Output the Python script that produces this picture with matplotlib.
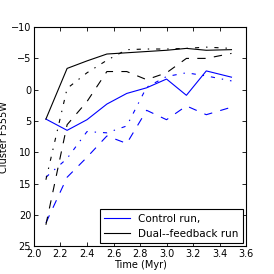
import matplotlib
matplotlib.use("Agg")
import matplotlib.pyplot as plt

# tiempos de los snapshots (Myr)
tiempo = [2.09, 2.25, 2.40, 2.55, 2.70, 2.85, 3.00, 3.15, 3.30, 3.49]

# corrida de control (azul)
control_solido = [4.7, 6.5, 4.8, 2.3, 0.6, -0.3, -1.7, 0.9, -3.0, -2.0]
control_rayas = [21.3, 14.0, 10.8, 7.4, 8.6, 3.3, 4.8, 2.6, 4.0, 2.8]
control_punto = [14.0, 11.0, 6.7, 6.9, 5.8, -0.4, -2.1, -2.7, -2.2, -1.4]

# corrida con doble feedback (negro)
dual_solido = [4.7, -3.4, -4.6, -5.7, -5.9, -6.1, -6.3, -6.6, -6.3, -6.4]
dual_rayas = [21.6, 5.6, 1.9, -2.9, -2.9, -1.6, -2.7, -5.0, -5.0, -5.8]
dual_punto = [14.4, -0.2, -2.7, -4.7, -6.4, -6.5, -6.5, -6.6, -6.8, -6.6]

plt.rcParams["font.family"] = "DejaVu Sans"
plt.rcParams["font.size"] = 7
plt.rcParams["lines.scale_dashes"] = False
plt.rcParams["xtick.direction"] = "in"
plt.rcParams["ytick.direction"] = "in"
plt.rcParams["xtick.top"] = True
plt.rcParams["ytick.right"] = True

fig = plt.figure(figsize=(2.74, 2.74), dpi=100)
ax = fig.add_axes([0.124, 0.102, 0.774, 0.799])

lw = 0.8
ax.plot(tiempo, control_solido, color="b", lw=lw, label="Control run,")
ax.plot(tiempo, control_rayas, color="b", lw=lw, dashes=(6, 6))
ax.plot(tiempo, control_punto, color="b", lw=lw, dashes=(3, 5, 1, 5))
ax.plot(tiempo, dual_solido, color="k", lw=lw, label="Dual--feedback run")
ax.plot(tiempo, dual_rayas, color="k", lw=lw, dashes=(6, 6))
ax.plot(tiempo, dual_punto, color="k", lw=lw, dashes=(3, 5, 1, 5))

ax.set_xlim(2.0, 3.6)
ax.set_ylim(25, -10)
ax.set_xticks([2.0, 2.2, 2.4, 2.6, 2.8, 3.0, 3.2, 3.4, 3.6])
ax.set_yticks([-10, -5, 0, 5, 10, 15, 20, 25])
ax.tick_params(length=3, width=0.6, pad=2)
for s in ax.spines.values():
    s.set_linewidth(0.8)

ax.set_xlabel("Time (Myr)", labelpad=1)
ax.set_ylabel("Cluster F555W", labelpad=1)

leg = ax.legend(loc="lower right", fontsize=7.5, fancybox=False, framealpha=1,
                borderaxespad=0.3, handlelength=2.5, labelspacing=0.5)
leg.get_frame().set_edgecolor("k")
leg.get_frame().set_linewidth(0.8)

fig.savefig("out.png", dpi=100)
